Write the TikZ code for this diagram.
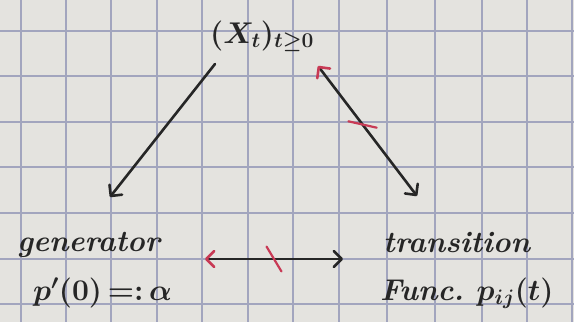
\RequirePackage{fix-cm}
\documentclass[tikz,border=0pt]{standalone}
\usepackage{amsmath}
\usepackage{fontspec}
\usepackage{xcolor}
\usepackage{tikz}
\usetikzlibrary{arrows.meta,calc,decorations.markings}
\definecolor{paper}{HTML}{E4E3DF}
\definecolor{gridline}{HTML}{A2A5BE}
\definecolor{ink}{HTML}{262626}
\definecolor{redpen}{HTML}{C83A55}

\tikzset{
  hand/.style={font=\fontsize{30}{36}\selectfont\bfseries\itshape\boldmath, text=ink, inner sep=0pt},
  link/.style={draw=ink, line width=2.6pt, line cap=round},
  barb/.tip={Straight Barb[length=8pt,width=16pt,round]},
  nogo/.style 2 args={postaction=decorate,
    decoration={markings, mark=at position #1 with
      {\draw[-, redpen, line width=2.2pt, line cap=round] (#2:-14.5) -- (#2:14.5);}}},
}

\begin{document}
\begin{tikzpicture}[x=1pt,y=-1pt]
  % squared paper
  \fill[paper] (0,0) rectangle (574,322);
  \useasboundingbox (0,0) rectangle (574,322);
  \foreach \gx in {21,66,111,157,202,248,293,339,387,435,482,527,572}
     \draw[gridline, line width=1.3pt] (\gx,0) -- (\gx,322);
  \foreach \gy in {31,76,122,167,213,259,304}
     \draw[gridline, line width=1.3pt] (0,\gy) -- (574,\gy);

  % the three objects
  \node[hand, anchor=base west] (proc) at (210,43) {$(X_t)_{t\geq 0}$};
  \node[hand, anchor=base west] (gen) at (17,251) {generator};
  \node[hand, anchor=base west] (genP) at (33,300) {$p'(0)\,{=}{:}\,\alpha$};
  \node[hand, anchor=base west] (trans) at (383,252) {transition};
  \node[hand, anchor=base west] (transP) at (380,300) {Func.\ $p_{ij}(t)$};

  % what implies what
  \draw[link, -{barb}] ($(proc.base west)+(5,21)$) -- ($(gen.base west)+(93,-54)$);
  \draw[link, {barb[color=redpen]}-{barb}, nogo={0.45}{-40}]
     ($(proc.base west)+(108,23)$) -- ($(trans.base west)+(34,-56)$);
  \draw[link, {barb[color=redpen]}-{barb}, nogo={0.5}{59}]
     ($(gen.base west)+(188,8)$) -- ($(trans.base west)+(-40,7)$);
\end{tikzpicture}
\end{document}
